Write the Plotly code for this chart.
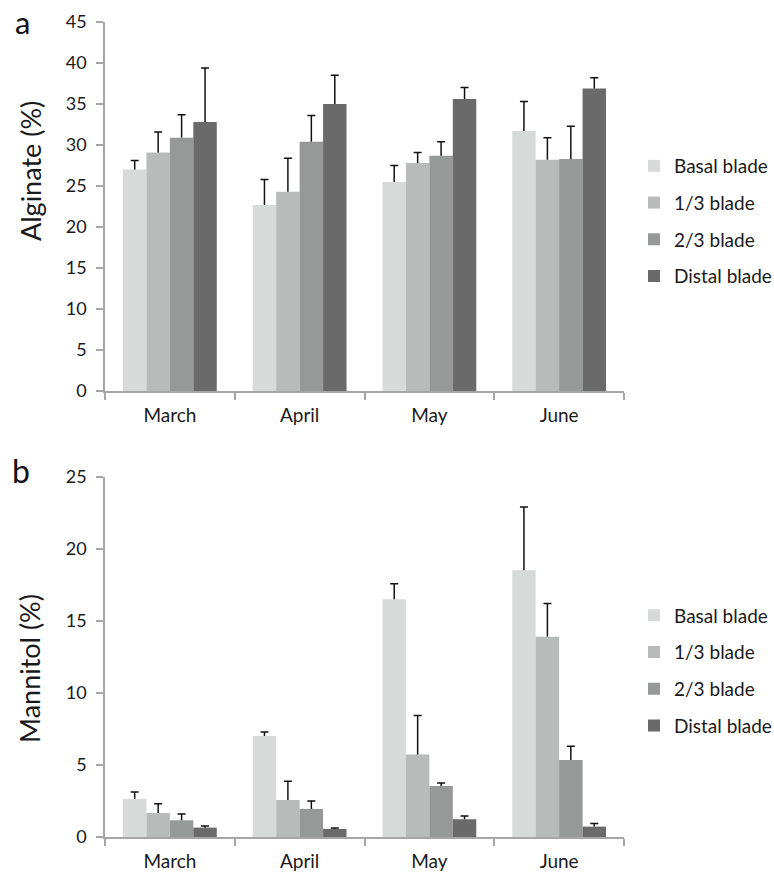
import plotly.graph_objects as go

months = ["March", "April", "May", "June"]
series = ["Basal blade", "1/3 blade", "2/3 blade", "Distal blade"]
colors = ["#d8d9d9", "#b9baba", "#979898", "#6a6a6a"]

alginate = {
    "Basal blade": [27.0, 22.7, 25.5, 31.7],
    "1/3 blade": [29.1, 24.3, 27.8, 28.2],
    "2/3 blade": [30.9, 30.4, 28.7, 28.3],
    "Distal blade": [32.8, 35.0, 35.6, 36.9],
}
alginate_err = {
    "Basal blade": [1.1, 3.1, 2.0, 3.6],
    "1/3 blade": [2.5, 4.1, 1.3, 2.7],
    "2/3 blade": [2.8, 3.2, 1.7, 4.0],
    "Distal blade": [6.6, 3.5, 1.4, 1.3],
}
mannitol = {
    "Basal blade": [2.64, 7.01, 16.49, 18.5],
    "1/3 blade": [1.67, 2.57, 5.72, 13.9],
    "2/3 blade": [1.16, 1.95, 3.54, 5.35],
    "Distal blade": [0.65, 0.56, 1.23, 0.72],
}
mannitol_err = {
    "Basal blade": [0.48, 0.28, 1.08, 4.4],
    "1/3 blade": [0.64, 1.30, 2.71, 2.3],
    "2/3 blade": [0.44, 0.55, 0.21, 0.95],
    "Distal blade": [0.11, 0.07, 0.23, 0.21],
}

FONT = "Lato, 'Open Sans', sans-serif"
AXC = "#a6a6a6"

fig = go.Figure()

def add_panel(vals, errs, xa, ya, legend):
    for s, c in zip(series, colors):
        v = vals[s]
        e = errs[s]
        fig.add_trace(go.Bar(
            x=months, y=v, name=s, marker=dict(color=c, line=dict(width=0)),
            offsetgroup=s, xaxis=xa, yaxis=ya, legend=legend,
            legendgroup=legend + "-" + s,
            error_y=dict(type="data", symmetric=False, array=e,
                         arrayminus=[0] * len(e), width=0, thickness=1.5,
                         color="#111111"),
            hoverinfo="skip",
        ))
        tops = [a + b for a, b in zip(v, e)]
        fig.add_trace(go.Bar(
            x=months, y=tops, name=s, marker=dict(color="rgba(0,0,0,0)", line=dict(width=0)),
            offsetgroup=s, xaxis=xa, yaxis=ya, showlegend=False,
            legendgroup=legend + "-" + s, legend=legend,
            error_y=dict(type="data", symmetric=False, array=[0] * len(e),
                         arrayminus=[0] * len(e), width=4, thickness=1.5,
                         color="#111111"),
            hoverinfo="skip",
        ))

add_panel(alginate, alginate_err, "x", "y", "legend")
add_panel(mannitol, mannitol_err, "x2", "y2", "legend2")

xcommon = dict(showline=True, linecolor=AXC, linewidth=1.5, ticks="outside",
               tickson="boundaries", ticklen=7, tickcolor=AXC, tickwidth=1.5,
               showgrid=False, tickfont=dict(size=19, color="#1a1a1a", family=FONT),
               ticklabelstandoff=6, automargin=False)
ycommon = dict(showline=True, linecolor=AXC, linewidth=1.5, ticks="outside",
               ticklen=7, tickcolor=AXC, tickwidth=1.5, showgrid=False, zeroline=False,
               dtick=5, tickfont=dict(size=18, color="#1a1a1a", family=FONT),
               ticklabelstandoff=6, automargin=False)

legend_common = dict(font=dict(size=19, color="#1a1a1a", family=FONT),
                     traceorder="grouped", tracegroupgap=9,
                     xref="container", xanchor="left", yanchor="middle",
                     bgcolor="rgba(0,0,0,0)")

fig.update_layout(
    width=774, height=873,
    margin=dict(l=105, r=150, t=22, b=36),
    paper_bgcolor="white", plot_bgcolor="white",
    barmode="group", bargap=0.277, bargroupgap=0,
    font=dict(family=FONT, color="#1a1a1a"),
    xaxis=dict(domain=[0, 1], anchor="y", **xcommon),
    yaxis=dict(domain=[0.5472, 1], anchor="x", range=[0, 45], **ycommon),
    xaxis2=dict(domain=[0, 1], anchor="y2", **xcommon),
    yaxis2=dict(domain=[0, 0.4421], anchor="x2", range=[0, 25], **ycommon),
    legend=dict(x=634 / 774, y=0.7558, **legend_common),
    legend2=dict(x=634 / 774, y=0.2043, **legend_common),
    annotations=[
        dict(text="Alginate (%)", xref="paper", yref="paper", x=(30 - 105) / 519,
             y=(837 - 171) / 815, textangle=-90, showarrow=False,
             font=dict(size=27, family=FONT, color="#1a1a1a"),
             xanchor="center", yanchor="middle"),
        dict(text="Mannitol (%)", xref="paper", yref="paper", x=(29 - 105) / 519,
             y=(837 - 669) / 815, textangle=-90, showarrow=False,
             font=dict(size=27, family=FONT, color="#1a1a1a"),
             xanchor="center", yanchor="middle"),
        dict(text="a", xref="paper", yref="paper", x=(22 - 105) / 519, y=(837 - 1) / 815,
             showarrow=False, font=dict(size=31, family=FONT, color="#111111"),
             xanchor="center", yanchor="top"),
        dict(text="b", xref="paper", yref="paper", x=(21 - 105) / 519, y=(837 - 471) / 815,
             showarrow=False, font=dict(size=32, family=FONT, color="#111111"),
             xanchor="center", yanchor="middle"),
    ],
)

fig.write_html("out.html", config={"displayModeBar": False},
               post_script="document.body.style.margin='0';")
